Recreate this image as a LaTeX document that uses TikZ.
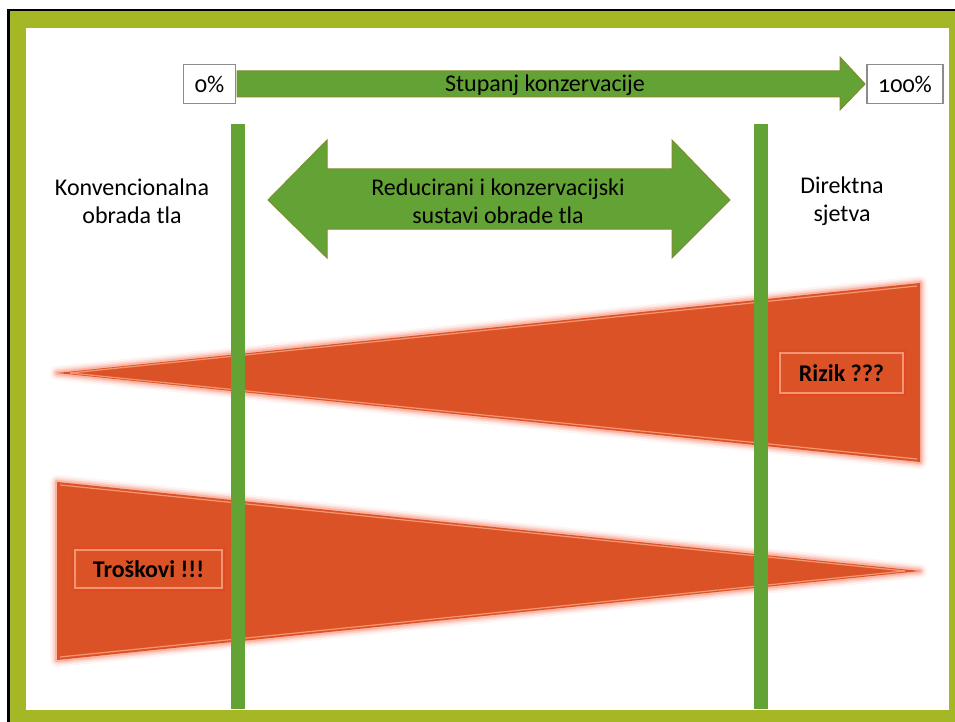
\documentclass[tikz,border=0pt]{standalone}
\usepackage{fontspec}
\setmainfont{Carlito}
\newfontfamily\oldnum[Numbers=OldStyle]{Carlito}
\definecolor{olivefr}{RGB}{166,183,38}
\definecolor{grn}{RGB}{99,163,53}
\definecolor{grnedge}{RGB}{128,140,45}
\definecolor{redor}{RGB}{219,82,38}
\definecolor{glowc}{RGB}{250,120,90}
\definecolor{boxedge}{RGB}{232,60,25}
\definecolor{bevel}{RGB}{245,150,115}
\tikzset{
  pctbox/.style={draw=black!45, line width=1.5pt, fill=white, minimum width=52pt, minimum height=39pt, inner sep=0pt, font=\fontsize{24}{28}\selectfont\oldnum},
  biglbl/.style={align=center, font=\fontsize{24}{28}\selectfont, inner sep=0pt},
  bar/.style={fill=grn, draw=none},
  arrowshape/.style={fill=grn, draw=grnedge, line width=1pt, line join=miter},
  tag/.style={fill=redor, draw=bevel, line width=1.5pt, font=\fontsize{24}{28}\selectfont\bfseries, inner sep=0pt},
  wedge/.style={fill=redor, draw=none}
}
\begin{document}
\begin{tikzpicture}[x=1pt,y=-1pt]
\useasboundingbox (0,0) rectangle (955,722);
% frame
\fill[olivefr] (10,11) rectangle (955,722);
\fill[white] (26,28) rectangle (949,710);
\draw[black, line width=2.2pt] (8.5,722) -- (8.5,10) -- (955,10);

% wedges with glow
\foreach \w/\o in {14/0.08,10/0.12,7/0.18,4/0.3}{
  \draw[glowc, line width=\w pt, opacity=\o, line join=round] (57,373) -- (920,283) -- (920,462) -- cycle;
  \draw[glowc, line width=\w pt, opacity=\o, line join=round] (57,482) -- (920,571) -- (57,660) -- cycle;
}
\path[wedge] (57,373) coordinate (t1) -- (920,283) -- (920,462) -- cycle;
\path[wedge] (57,482) -- (920,571) coordinate (t2) -- (57,660) -- cycle;
\draw[bevel, line width=1.2pt] (70,373) -- (917,286);
\draw[bevel, line width=1.2pt] (70,373) -- (917,459);
\draw[bevel, line width=1.2pt] (60,485) -- (905,571);
\draw[bevel, line width=1.2pt] (60,657) -- (905,571);

% vertical bars
\path[bar] (231,124) rectangle (245,709);
\path[bar] (754,124) rectangle (768,709);

% tags
\foreach \w/\o in {8/0.15,5/0.3}{
  \draw[boxedge, line width=\w pt, opacity=\o] (780,353) rectangle (903,393);
  \draw[boxedge, line width=\w pt, opacity=\o] (75,550) rectangle (222,588);
}
\node[tag, minimum width=123pt, minimum height=40pt] (rizik) at (841.5,373) {Rizik ???};
\node[tag, minimum width=147pt, minimum height=38pt] (troskovi) at (148.5,569) {Troškovi !!!};

% top arrow
\node[pctbox] (p0) at (209.5,84) {0\%};
\node[pctbox, minimum width=76pt] (p100) at (905,84) {100\%};
\draw[arrowshape] (237,71) -- (840,71) -- (840,57) -- (865,84) -- (840,110) -- (840,97) -- (237,97) -- cycle;
\node[biglbl] (stupanj) at (545,85) {Stupanj konzervacije};

% double arrow
\draw[arrowshape] (268,200) -- (327,140) -- (327,169) -- (672,169) -- (672,140) -- (730,200) -- (672,258) -- (672,229) -- (327,229) -- (327,258) -- cycle;
\node[biglbl] (reduc) at (498,201) {Reducirani i konzervacijski\\sustavi obrade tla};

% side labels
\node[biglbl] (konv) at (132,201) {Konvencionalna\\obrada tla};
\node[biglbl] (direk) at (842,201) {Direktna\\sjetva};
\end{tikzpicture}
\end{document}
